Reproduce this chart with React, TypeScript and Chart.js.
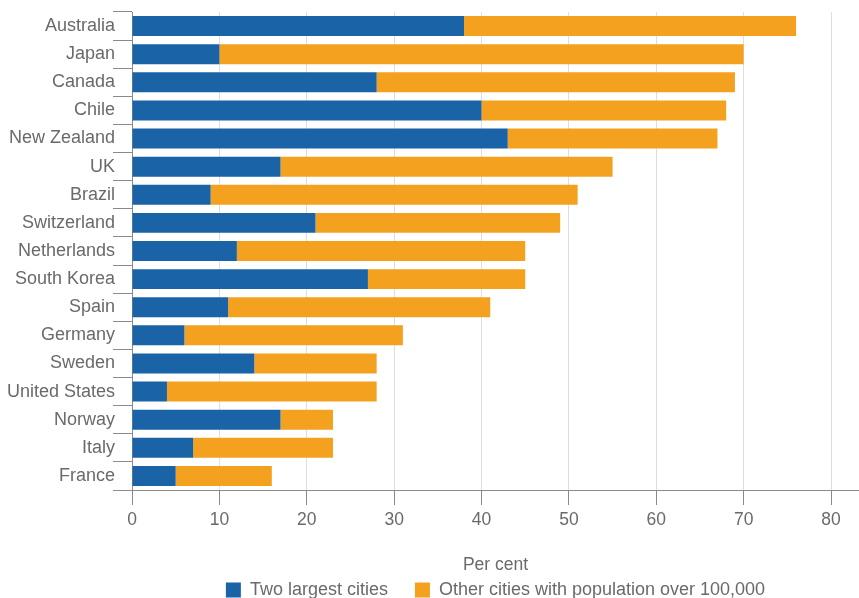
import React, { useEffect, useRef } from "react";
import { Chart, registerables } from "chart.js";

Chart.register(...registerables);

const categories = [
  "Australia", "Japan", "Canada", "Chile", "New Zealand", "UK", "Brazil",
  "Switzerland", "Netherlands", "South Korea", "Spain", "Germany", "Sweden",
  "United States", "Norway", "Italy", "France",
];
const twoLargestCities = [38, 10, 28, 40, 43, 17, 9, 21, 12, 27, 11, 6, 14, 4, 17, 7, 5];
const otherCities = [38, 60, 41, 28, 24, 38, 42, 28, 33, 18, 30, 25, 14, 24, 6, 16, 11];
const xTickValues = [0, 10, 20, 30, 40, 50, 60, 70, 80];

const seriesNames = ["Two largest cities", "Other cities with population over 100,000"];
const axisTitle = "Per cent";

const BLUE = "#1a63a6";
const ORANGE = "#f4a11f";
const TEXT = "#6a6a6a";
const FONT = "'Liberation Sans', Arial, sans-serif";

export default function App() {
  const ref = useRef<HTMLCanvasElement | null>(null);

  useEffect(() => {
    document.body.style.margin = "0";
    const canvas = ref.current;
    if (!canvas) return;
    const chart = new Chart(canvas, {
      type: "bar",
      data: {
        labels: categories,
        datasets: [
          {
            label: seriesNames[0],
            data: twoLargestCities,
            backgroundColor: BLUE,
            borderWidth: 0,
            barPercentage: 0.71,
            categoryPercentage: 1,
          },
          {
            label: seriesNames[1],
            data: otherCities,
            backgroundColor: ORANGE,
            borderWidth: 0,
            barPercentage: 0.71,
            categoryPercentage: 1,
          },
        ],
      },
      options: {
        indexAxis: "y",
        responsive: false,
        animation: false,
        layout: { padding: { top: 12, right: 0, bottom: -11, left: 0 } },
        plugins: {
          tooltip: { enabled: false },
          legend: {
            position: "bottom",
            fullSize: false,
            labels: {
              boxWidth: 15,
              boxHeight: 15,
              padding: 27,
              color: TEXT,
              font: { family: FONT, size: 18 },
            },
          },
        },
        scales: {
          x: {
            stacked: true,
            min: 0,
            max: 83.2,
            afterBuildTicks: (scale: any) => {
              scale.ticks = xTickValues.map((v) => ({ value: v }));
            },
            afterFit: (scale: any) => {
              scale.height = 64;
            },
            grid: {
              color: "#dedede",
              lineWidth: 1,
              drawOnChartArea: true,
              drawTicks: true,
              tickLength: 15,
              tickColor: "#8a8a8a",
            },
            border: { display: true, color: "#8a8a8a", width: 1 },
            ticks: {
              color: TEXT,
              font: { family: FONT, size: 17.5 },
              padding: 5,
              maxRotation: 0,
            },
            title: {
              display: true,
              text: axisTitle,
              color: TEXT,
              font: { family: FONT, size: 17.5 },
              padding: { top: 0, bottom: -21.5 },
            },
          },
          y: {
            stacked: true,
            afterFit: (scale: any) => {
              scale.width = 132;
            },
            grid: {
              offset: true,
              drawOnChartArea: false,
              drawTicks: true,
              tickLength: 19,
              tickColor: "#8a8a8a",
              lineWidth: 1,
            },
            border: { display: true, color: "#8a8a8a", width: 1 },
            ticks: {
              color: TEXT,
              font: { family: FONT, size: 18 },
              padding: -2,
              autoSkip: false,
            },
          },
        },
      },
    });
    return () => chart.destroy();
  }, []);

  return (
    <div style={{ width: 859, height: 598, overflow: "hidden" }}>
      <canvas ref={ref} width={859} height={598} style={{ display: "block" }} />
    </div>
  );
}
